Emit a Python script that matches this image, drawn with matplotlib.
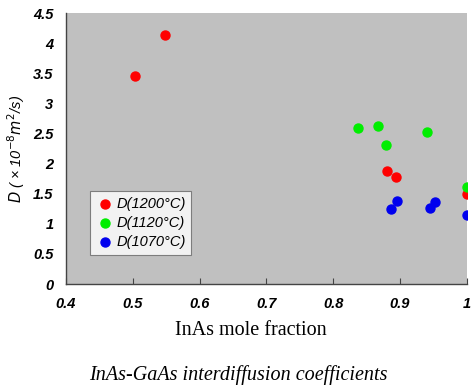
import matplotlib
matplotlib.use("Agg")
import matplotlib.pyplot as plt

# InAs mole fraction vs D (x10^-8 m^2/s)
x_1200 = [0.503, 0.548, 0.880, 0.894, 1.0]
d_1200 = [3.46, 4.13, 1.87, 1.78, 1.50]
x_1120 = [0.837, 0.867, 0.879, 0.941, 1.0]
d_1120 = [2.59, 2.62, 2.31, 2.53, 1.62]
x_1070 = [0.886, 0.896, 0.945, 0.952, 1.0]
d_1070 = [1.25, 1.38, 1.27, 1.37, 1.15]

xticks = [0.4, 0.5, 0.6, 0.7, 0.8, 0.9, 1.0]
xticklabels = ["0.4", "0.5", "0.6", "0.7", "0.8", "0.9", "1"]
yticks = [0, 0.5, 1, 1.5, 2, 2.5, 3, 3.5, 4, 4.5]
yticklabels = ["0", "0.5", "1", "1.5", "2", "2.5", "3", "3.5", "4", "4.5"]

fig = plt.figure(figsize=(4.71, 3.88), dpi=100)
ax = fig.add_axes([0.140, 0.268, 0.851, 0.698])
ax.set_facecolor("#c0c0c0")

ms = 42
ax.scatter(x_1200, d_1200, s=ms, color="#ff0000", label="D(1200°C)", zorder=3)
ax.scatter(x_1120, d_1120, s=ms, color="#00ee00", label="D(1120°C)", zorder=3)
ax.scatter(x_1070, d_1070, s=ms, color="#0000ee", label="D(1070°C)", zorder=3)

ax.set_xlim(0.4, 1.0)
ax.set_ylim(0, 4.5)
ax.set_xticks(xticks)
ax.set_xticklabels(xticklabels)
ax.set_yticks(yticks)
ax.set_yticklabels(yticklabels)

tick_font = dict(family="Liberation Sans", style="italic", weight="bold", size=10.5)
for lab in ax.get_xticklabels() + ax.get_yticklabels():
    lab.set_fontproperties(matplotlib.font_manager.FontProperties(**tick_font))

ax.tick_params(axis="x", direction="in", length=4, color="#444444", pad=9)
ax.tick_params(axis="y", length=0, pad=9)

for s in ["top", "right"]:
    ax.spines[s].set_visible(False)
for s in ["left", "bottom"]:
    ax.spines[s].set_color("#444444")
    ax.spines[s].set_linewidth(1.0)

ax.set_ylabel(r"$D$ ( × 10$^{-8}$$m^{2}$/s)", family="Liberation Sans",
              style="italic", size=10.5)
ax.yaxis.set_label_coords(-0.097, 0.5)
ax.set_xlabel("InAs mole fraction", family="Liberation Serif", size=14.5)
ax.xaxis.set_label_coords(0.462, -0.135)

leg = ax.legend(loc="lower left", bbox_to_anchor=(0.06, 0.107), frameon=True,
                fancybox=False, handletextpad=0.2, borderpad=0.4,
                borderaxespad=0, labelspacing=0.35, handlelength=1.2,
                prop=dict(family="Liberation Sans", style="italic", size=10.5))
leg.get_frame().set_edgecolor("#666666")
leg.get_frame().set_facecolor("white")
leg.get_frame().set_linewidth(0.8)

fig.text(0.505, 0.02, "InAs-GaAs interdiffusion coefficients",
         family="Liberation Serif", style="italic", size=14.5, ha="center")

fig.savefig("out.png", dpi=100)
